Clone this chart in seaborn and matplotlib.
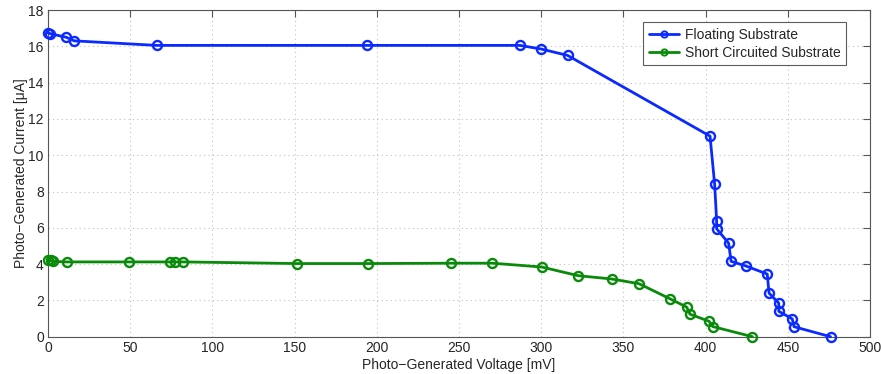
import matplotlib
matplotlib.use("Agg")
import matplotlib.pyplot as plt
from matplotlib.lines import Line2D
import seaborn as sns
import pandas as pd

floating_v = [0, 1.2, 11, 16, 66, 194, 287, 300, 316, 402.7, 405.5, 406.7, 406.7,
              414, 415.5, 424.4, 437.5, 438.6, 444.5, 444.5, 452.7, 453.8, 476]
floating_i = [16.75, 16.7, 16.5, 16.3, 16.05, 16.05, 16.05, 15.85, 15.5, 11.05, 8.4,
              6.4, 5.95, 5.15, 4.15, 3.9, 3.45, 2.4, 1.85, 1.4, 0.98, 0.55, 0]

short_v = [0.2, 1.6, 3.2, 11.4, 49.1, 74.2, 77.4, 82.3, 151.3, 194.8, 245.1, 270.3,
           300.3, 322.6, 342.9, 359.5, 378.3, 388.5, 390.5, 402.1, 404.3, 428.5]
short_i = [4.2, 4.2, 4.15, 4.12, 4.12, 4.12, 4.12, 4.12, 4.03, 4.03, 4.05, 4.05,
           3.84, 3.36, 3.18, 2.92, 2.09, 1.63, 1.24, 0.85, 0.56, 0]

series_names = ["Floating Substrate", "Short Circuited Substrate"]
colors = ["#0a2aff", "#0a8a0a"]

x_ticks = list(range(0, 501, 50))
y_ticks = list(range(0, 19, 2))

df_f = pd.DataFrame({"v": floating_v, "i": floating_i})
df_s = pd.DataFrame({"v": short_v, "i": short_i})

sns.set_style("white")
plt.rcParams["font.family"] = ["Liberation Sans", "DejaVu Sans"]

fig = plt.figure(figsize=(8.81, 3.74), dpi=100)
ax = fig.add_axes([48 / 881, 37.3 / 374, (870 - 48) / 881, (336.7 - 10) / 374])

handles = []
for df, name, c in zip([df_f, df_s], series_names, colors):
    sns.lineplot(data=df, x="v", y="i", ax=ax, sort=False, estimator=None,
                 color=c, linewidth=2, marker="o", markersize=6.5,
                 markerfacecolor="none", markeredgecolor=c, markeredgewidth=1.7,
                 clip_on=False, zorder=3, legend=False)
    handles.append(Line2D([], [], color=c, linewidth=2, marker="o", markersize=4.5,
                          markerfacecolor="none", markeredgecolor=c,
                          markeredgewidth=1.4, label=name))

ax.set_xlim(0, 500)
ax.set_ylim(0, 18)
ax.set_xticks(x_ticks)
ax.set_yticks(y_ticks)
ax.grid(True, linestyle=(0, (1, 3)), color="#c0c0c0", linewidth=0.8)
ax.set_axisbelow(True)
for s in ax.spines.values():
    s.set_color("#555555")
    s.set_linewidth(0.8)
ax.tick_params(direction="in", length=5, width=0.8, color="#555555",
               labelsize=10, top=True, right=True, pad=3)
ax.set_xlabel("Photo\u2212Generated Voltage [mV]", fontsize=10, labelpad=2)
ax.set_ylabel("Photo\u2212Generated Current [\u03bcA]", fontsize=10, labelpad=0)

leg = ax.legend(handles=handles, loc="upper right", bbox_to_anchor=(0.971, 0.963),
                borderaxespad=0, fontsize=10,
                frameon=True, fancybox=False, handlelength=2.2, borderpad=0.4,
                labelspacing=0.3, handletextpad=0.4)
leg.get_frame().set_edgecolor("#333333")
leg.get_frame().set_linewidth(0.8)

fig.savefig("out.png", dpi=100, facecolor="white")
